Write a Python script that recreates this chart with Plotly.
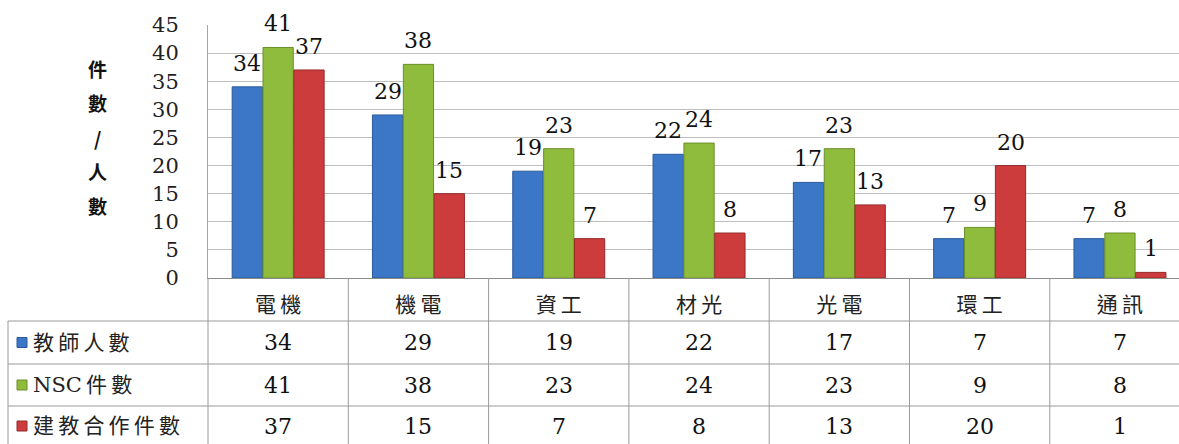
import plotly.graph_objects as go

W, H = 1179, 444

categories = ["電機", "機電", "資工", "材光", "光電", "環工", "通訊"]
series_names = ["教師人數", "NSC件數", "建教合作件數"]
teachers = [34, 29, 19, 22, 17, 7, 7]
nsc = [41, 38, 23, 24, 23, 9, 8]
coop = [37, 15, 7, 8, 13, 20, 1]
y_ticks = [0, 5, 10, 15, 20, 25, 30, 35, 40, 45]
y_title_chars = ["件", "數", "/", "人", "數"]

series_values = [teachers, nsc, coop]
colors = ["#3B77C6", "#8FBC3C", "#CC3C3C"]
edge_colors = ["#2A5A9A", "#6A8E28", "#972A2A"]

NUM_FONT = "DejaVu Serif"
CJK_FONT = "DejaVu Serif, Noto Sans CJK TC"


def px(x):
    return x / W


def py(y):
    return 1 - y / H


def spaced(s):
    out = ""
    for i, ch in enumerate(s):
        out += ch
        if i < len(s) - 1 and (ord(ch) > 0x2E80 or ord(s[i + 1]) > 0x2E80):
            out += "\u2009"
    return out


BARGAP = 0.34
n_series = len(series_values)
bar_w = (1 - BARGAP) / n_series

fig = go.Figure()
for name, vals, c, ec in zip(series_names, series_values, colors, edge_colors):
    fig.add_trace(go.Bar(
        x=categories, y=vals, name=name,
        marker=dict(color=c, line=dict(color=ec, width=1)),
        hoverinfo="x+y+name",
    ))

plot_left, plot_top, plot_bottom = 208, 25, 278
cat_w = 140.3
x_max = -0.5 + (W - plot_left) / cat_w

fig.update_layout(
    width=W, height=H, autosize=False,
    margin=dict(l=0, r=0, t=0, b=0, pad=0),
    paper_bgcolor="white", plot_bgcolor="white",
    barmode="group", bargap=BARGAP, bargroupgap=0.02,
    showlegend=False,
    xaxis=dict(
        domain=[px(plot_left), 1.0],
        range=[-0.5, x_max], automargin=False,
        showgrid=False, showline=True, linecolor="#8C8C8C", linewidth=1,
        ticks="", tickfont=dict(family=CJK_FONT, size=21, color="#222222"),
        tickvals=categories, ticktext=[spaced(c) for c in categories],
        ticklabelstandoff=8,
    ),
    yaxis=dict(
        domain=[py(plot_bottom), py(plot_top)], automargin=False,
        range=[0, 45], tickvals=y_ticks,
        showgrid=True, gridcolor="#BEBEBE", gridwidth=1,
        showline=True, linecolor="#A6A6A6", linewidth=1,
        zeroline=False, ticks="",
        tickfont=dict(family=NUM_FONT, size=21, color="#222222"),
        ticklabelstandoff=24,
    ),
)

shapes = []
annotations = []

# data labels above the bars
for s, vals in enumerate(series_values):
    offset = (s - (n_series - 1) / 2) * bar_w
    for k, v in enumerate(vals):
        annotations.append(dict(x=k + offset, y=v, xref="x", yref="y",
                                text=str(v), showarrow=False,
                                xanchor="center", yanchor="bottom", yshift=9,
                                font=dict(family=NUM_FONT, size=22, color="#111111")))

line_col = "#9A9A9A"
row_lines = [321, 364, 406]
for yline in row_lines:
    shapes.append(dict(type="line", xref="paper", yref="paper",
                       x0=px(8), x1=1.0, y0=py(yline), y1=py(yline),
                       line=dict(color=line_col, width=1)))
shapes.append(dict(type="line", xref="paper", yref="paper",
                   x0=px(8), x1=px(8), y0=py(row_lines[0]), y1=0,
                   line=dict(color=line_col, width=1)))
shapes.append(dict(type="line", xref="paper", yref="paper",
                   x0=px(plot_left), x1=px(plot_left), y0=py(plot_bottom), y1=0,
                   line=dict(color=line_col, width=1)))
for k in range(len(categories) - 1):
    shapes.append(dict(type="line", xref="x", yref="paper",
                       x0=k + 0.5, x1=k + 0.5, y0=py(plot_bottom), y1=0,
                       line=dict(color=line_col, width=1)))

row_centers = [342.5, 385, 426]
for r, (name, vals, c, ec) in enumerate(zip(series_names, series_values, colors, edge_colors)):
    yc = row_centers[r]
    shapes.append(dict(type="rect", xref="paper", yref="paper",
                       x0=px(17), x1=px(27), y0=py(yc + 5), y1=py(yc - 5),
                       fillcolor=c, line=dict(color=ec, width=1)))
    annotations.append(dict(x=px(31), y=py(yc), xref="paper", yref="paper",
                            text=spaced(name), showarrow=False, xanchor="left",
                            yanchor="middle",
                            font=dict(family=CJK_FONT, size=21, color="#222222")))
    for k, v in enumerate(vals):
        annotations.append(dict(x=k, y=py(yc), xref="x", yref="paper",
                                text=str(v), showarrow=False, xanchor="center",
                                yanchor="middle",
                                font=dict(family=NUM_FONT, size=22, color="#111111")))

title_start, title_step = 68, 34.5
for i, ch in enumerate(y_title_chars):
    annotations.append(dict(x=px(97), y=py(title_start + i * title_step),
                            xref="paper", yref="paper", text="<b>" + ch + "</b>",
                            showarrow=False, xanchor="center", yanchor="middle",
                            font=dict(family="Noto Sans CJK TC", size=19,
                                      color="#111111")))

fig.update_layout(shapes=shapes, annotations=annotations)
fig.write_html("out.html", config={"displayModeBar": False},
               post_script="document.body.style.margin='0';document.body.style.overflow='hidden';")
